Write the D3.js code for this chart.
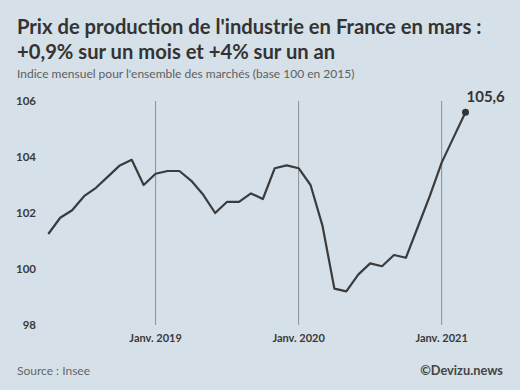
<!DOCTYPE html>
<html>
<head>
<meta charset="utf-8">
<script src="https://cdn.jsdelivr.net/npm/d3@7"></script>
<style>
  html, body { margin: 0; padding: 0; background: #d6e0e8; }
  svg { display: block; }
</style>
</head>
<body>
<svg id="chart" width="520" height="390"></svg>
<script>
const months = ["2018-04","2018-05","2018-06","2018-07","2018-08","2018-09","2018-10","2018-11","2018-12",
  "2019-01","2019-02","2019-03","2019-04","2019-05","2019-06","2019-07","2019-08","2019-09","2019-10","2019-11","2019-12",
  "2020-01","2020-02","2020-03","2020-04","2020-05","2020-06","2020-07","2020-08","2020-09","2020-10","2020-11","2020-12",
  "2021-01","2021-02","2021-03"];
const values = [101.25,101.83,102.1,102.6,102.9,103.3,103.7,103.9,103.0,
  103.4,103.5,103.5,103.15,102.65,102.0,102.4,102.4,102.7,102.5,103.6,103.7,
  103.6,103.0,101.55,99.3,99.2,99.8,100.2,100.1,100.5,100.4,101.5,102.6,
  103.8,104.7,105.6];
const yTicks = [98,100,102,104,106];
const xTickMonths = ["2019-01","2020-01","2021-01"];
const xTickLabels = ["Janv. 2019","Janv. 2020","Janv. 2021"];
const lastLabel = "105,6";

const svg = d3.select("#chart");
const font = "Lato, 'Open Sans', sans-serif";

svg.append("rect").attr("width",520).attr("height",390).attr("fill","#d6e0e8");

// Titles
const t = svg.append("g").attr("font-family", font);
t.append("text").attr("x",17).attr("y",34).attr("font-size",20.2).attr("font-weight",700).attr("fill","#333")
  .text("Prix de production de l'industrie en France en mars :");
t.append("text").attr("x",17).attr("y",59).attr("font-size",20.2).attr("font-weight",700).attr("fill","#333")
  .text("+0,9% sur un mois et +4% sur un an");
t.append("text").attr("x",17).attr("y",78).attr("font-size",12).attr("fill","#5e5e5e")
  .text("Indice mensuel pour l'ensemble des marchés (base 100 en 2015)");

const x = d3.scaleLinear().domain([0, months.length-1]).range([48.3, 465.5]);
const y = d3.scaleLinear().domain([98,106]).range([325,101]);

// vertical year lines
xTickMonths.forEach((m,i) => {
  const xi = x(months.indexOf(m));
  svg.append("line").attr("x1",xi).attr("x2",xi).attr("y1",y(106)).attr("y2",y(98))
    .attr("stroke","#8a8f94").attr("stroke-width",1);
  svg.append("text").attr("x",xi).attr("y",342).attr("text-anchor","middle")
    .attr("font-family",font).attr("font-size",11).attr("font-weight",700).attr("fill","#3a3a3a")
    .text(xTickLabels[i]);
});

// y axis labels
const yAxis = d3.axisLeft(y).tickValues(yTicks).tickSize(0).tickPadding(0);
const ga = svg.append("g").attr("transform","translate(36,0)").call(yAxis);
ga.select(".domain").remove();
ga.selectAll("text").attr("font-family",font).attr("font-size",11.5).attr("font-weight",700).attr("fill","#3a3a3a");

// line
const line = d3.line().x((d,i)=>x(i)).y(d=>y(d));
svg.append("path").datum(values).attr("d",line).attr("fill","none")
  .attr("stroke","#3b3b3b").attr("stroke-width",2.2).attr("stroke-linejoin","round");

const li = values.length-1;
svg.append("circle").attr("cx",x(li)).attr("cy",y(values[li])).attr("r",3.5).attr("fill","#333");
svg.append("text").attr("x",x(li)+1).attr("y",y(values[li])-10).attr("font-family",font)
  .attr("font-size",15).attr("font-weight",700).attr("fill","#333").text(lastLabel);

// footer
svg.append("text").attr("x",17).attr("y",375).attr("font-family",font).attr("font-size",12).attr("fill","#666")
  .text("Source : Insee");
svg.append("text").attr("x",503).attr("y",375).attr("text-anchor","end").attr("font-family",font)
  .attr("font-size",12.8).attr("font-weight",700).attr("fill","#444").text("©Devizu.news");
</script>
</body>
</html>
